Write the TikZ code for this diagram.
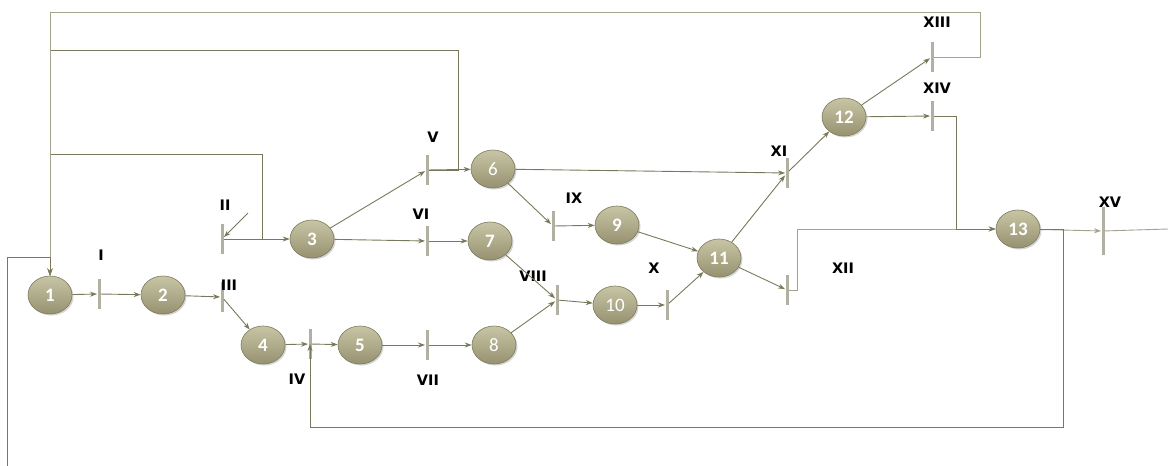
\documentclass[tikz,border=0pt]{standalone}
\usepackage{fontspec}
\usepackage{xcolor}
\usepackage{tikz}
\usetikzlibrary{arrows.meta, positioning, shapes.geometric, shadows}

\newfontfamily\lblfont{DejaVu Sans}
\newfontfamily\numfont{Carlito}
\definecolor{netline}{RGB}{122,120,90}
\definecolor{netlight}{RGB}{165,163,140}
\definecolor{placetop}{RGB}{200,197,166}
\definecolor{placebot}{RGB}{150,146,112}
\definecolor{placeedge}{RGB}{125,122,92}
\definecolor{barcol}{RGB}{178,176,160}

\begin{document}
\begin{tikzpicture}[x=1pt,y=-1pt,->,>={Stealth[length=7pt,width=5pt]},
  color=netline,line width=0.9pt,
  main node/.style={ellipse,draw=placeedge,line width=0.6pt,top color=placetop,
    bottom color=placebot,minimum width=44pt,minimum height=38pt,inner sep=0pt,
    text=white,font=\numfont\bfseries\fontsize{19}{19}\selectfont,
    drop shadow={shadow xshift=1.5pt,shadow yshift=-1.5pt,opacity=0.35}},
  thin node/.style={main node,font=\numfont\fontsize{19}{19}\selectfont},
  trans/.style={rectangle,fill=barcol,minimum width=3pt,minimum height=30pt,inner sep=0pt},
  lbl/.style={text=black,font=\lblfont\bfseries\fontsize{14.5}{14.5}\selectfont}]

  \useasboundingbox (0,0) rectangle (1168,466);

  % places
  \node[main node] (1) at (50,295) {1};
  \node[main node] (2) at (163,295) {2};
  \node[main node] (3) at (312,239) {3};
  \node[main node] (4) at (263,345) {4};
  \node[main node] (5) at (360,345) {5};
  \node[thin node] (6) at (493,169) {6};
  \node[main node] (7) at (490,241) {7};
  \node[thin node] (8) at (494,345) {8};
  \node[main node] (9) at (617,225) {9};
  \node[thin node] (10) at (615,305) {10};
  \node[main node] (11) at (719,258) {11};
  \node[main node] (12) at (844,117) {12};
  \node[main node] (13) at (1018,229) {13};

  % transitions
  \node[trans] (I) at (99,294) {};
  \node[trans] (II) at (222,239) {};
  \node[trans] (III) at (222,297) {};
  \node[trans] (IV) at (310,344) {};
  \node[trans] (V) at (427,170) {};
  \node[trans] (VI) at (427,241) {};
  \node[trans] (VII) at (427,345) {};
  \node[trans] (VIII) at (557,300) {};
  \node[trans] (IX) at (553,226) {};
  \node[trans] (X) at (667,305) {};
  \node[trans] (XI) at (787,173) {};
  \node[trans] (XII) at (787,290) {};
  \node[trans] (XIII) at (932,57) {};
  \node[trans] (XIV) at (932,116) {};
  \node[trans,minimum height=48pt] (XV) at (1103,231) {};

  \node[lbl] (lI) at (101,255) {I};
  \node[lbl] (lII) at (225,205) {II};
  \node[lbl] (lIII) at (229,285) {III};
  \node[lbl] (lIV) at (297,379) {IV};
  \node[lbl] (lV) at (433,137) {V};
  \node[lbl] (lVI) at (421,214) {VI};
  \node[lbl] (lVII) at (428,380) {VII};
  \node[lbl] (lVIII) at (533,276) {VIII};
  \node[lbl] (lIX) at (574,198) {IX};
  \node[lbl] (lX) at (654,268) {X};
  \node[lbl] (lXI) at (779,151) {XI};
  \node[lbl] (lXII) at (843,268) {XII};
  \node[lbl] (lXIII) at (937,22) {XIII};
  \node[lbl] (lXIV) at (937,88) {XIV};
  \node[lbl] (lXV) at (1110,202) {XV};

  % bends of the return arcs
  \coordinate (in1) at (7,466);
  \coordinate (in2) at (248,213);
  \coordinate (fb1) at (262,154);
  \coordinate (fb2) at (458,50);
  \coordinate (fb3) at (980,12);
  \coordinate (fb4) at (50,257);
  \coordinate (fb5) at (1063,427);
  \coordinate (fb6) at (797,229);
  \coordinate (fb7) at (956,229);
  \coordinate (out) at (1168,229);

  \path
    (1) edge (I)
    (I) edge (2)
    (2) edge (III)
    (III) edge (4)
    (in2) edge (II)
    (II) edge (3)
    (3) edge (V)
    (3) edge (VI)
    (V) edge (6)
    (VI) edge (7)
    (4) edge (IV)
    (IV) edge (5)
    (5) edge (VII)
    (VII) edge (8)
    (7) edge (VIII)
    (8) edge (VIII)
    (VIII) edge (10)
    (6) edge (IX)
    (IX) edge (9)
    (6) edge (XI)
    (9) edge (11)
    (10) edge (X)
    (X) edge (11)
    (11) edge (XI)
    (XI) edge (12)
    (11) edge (XII)
    (12) edge (XIII)
    (12) edge (XIV)
    (13) edge[netlight] (XV);

  \draw (II) -| (fb1) -| (1);
  \draw (V) -| (fb2) -| (1);
  \draw[netlight] (XIII) -| (fb3) -| (1);
  \draw (in1) |- (fb4) -- (1);
  \draw (13) -| (fb5) -| (IV.center);
  \draw[netlight] (XII) -| (fb6) -- (13);
  \draw (XIV) -| (fb7) -- (13);
  \draw[-,netlight] (XV) -- (out);
\end{tikzpicture}
\end{document}
